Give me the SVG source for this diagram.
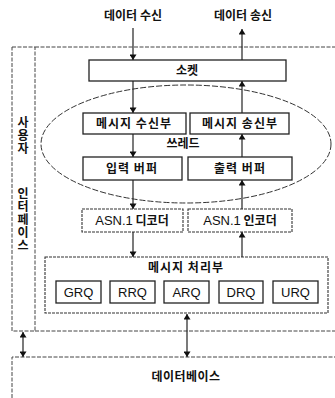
<svg xmlns="http://www.w3.org/2000/svg" width="335" height="398" viewBox="0 0 335 398">
<style>
text{font-family:"Noto Sans CJK KR","Liberation Sans",sans-serif;font-size:12px;fill:#111;text-anchor:middle;font-weight:bold}
.lat{font-family:"Liberation Sans","Noto Sans CJK KR",sans-serif;font-size:13px;font-weight:normal}
.vert{writing-mode:vertical-rl;text-orientation:upright;text-anchor:start;letter-spacing:1.2px}
.box{fill:#fff;stroke:#222;stroke-width:1.3}
.dbox{fill:#fff;stroke:#333;stroke-width:1.1;stroke-dasharray:3 1}
.frame{fill:none;stroke:#444;stroke-width:1;stroke-dasharray:4 1.5}
.ell{fill:none;stroke:#333;stroke-width:1;stroke-dasharray:6 2}
.c{stroke:#222;stroke-width:1.2;fill:none}
</style>
<defs>
<marker id="ah" viewBox="0 0 8 10" refX="8" refY="5" markerWidth="6" markerHeight="7" markerUnits="userSpaceOnUse" orient="auto-start-reverse">
<path d="M0,0 L8,5 L0,10 Z" fill="#111"/>
</marker>
</defs>

<g id="frame">
<path class="frame" d="M35,47 H335 M35,331 H335"/>
</g>

<g id="user-interface">
<rect class="frame" x="12" y="47" width="23" height="284"/>
<text class="vert" x="23" y="116">사용자</text>
<text class="vert" x="23" y="187">인터페이스</text>
</g>

<g id="data-in-label"><text x="133" y="20">데이터 수신</text></g>
<g id="data-out-label"><text x="243" y="20">데이터 송신</text></g>

<g id="socket">
<rect class="box" x="89" y="60" width="197" height="21"/>
<text x="187" y="75">소켓</text>
</g>

<g id="thread">
<ellipse class="ell" cx="186" cy="144" rx="145" ry="59"/>
<text x="183" y="148">쓰레드</text>
</g>

<g id="msg-recv">
<rect class="box" x="83" y="113" width="103" height="21"/>
<text x="134" y="128" letter-spacing="1">메시지 수신부</text>
</g>
<g id="msg-send">
<rect class="box" x="190" y="113" width="99" height="21"/>
<text x="240" y="128" letter-spacing="1">메시지 송신부</text>
</g>
<g id="in-buffer">
<rect class="box" x="83" y="157" width="99" height="23"/>
<text x="132" y="173" letter-spacing="1">입력 버퍼</text>
</g>
<g id="out-buffer">
<rect class="box" x="188" y="157" width="104" height="23"/>
<text x="240" y="173" letter-spacing="1">출력 버퍼</text>
</g>
<g id="asn-decoder">
<rect class="dbox" x="82" y="209" width="101" height="23"/>
<text x="132" y="225"><tspan class="lat">ASN.1</tspan> 디코더</text>
</g>
<g id="asn-encoder">
<rect class="dbox" x="188" y="209" width="104" height="23"/>
<text x="240" y="225"><tspan class="lat">ASN.1</tspan> 인코더</text>
</g>

<g id="msg-proc">
<rect class="dbox" x="45" y="257" width="283" height="56"/>
<text x="186" y="272" letter-spacing="1">메시지 처리부</text>
</g>
<g id="grq"><rect class="box" x="56" y="281" width="45" height="22"/><text class="lat" x="78.5" y="297">GRQ</text></g>
<g id="rrq"><rect class="box" x="110" y="281" width="45" height="22"/><text class="lat" x="132.5" y="297">RRQ</text></g>
<g id="arq"><rect class="box" x="164" y="281" width="45" height="22"/><text class="lat" x="186.5" y="297">ARQ</text></g>
<g id="drq"><rect class="box" x="219" y="281" width="44" height="22"/><text class="lat" x="241" y="297">DRQ</text></g>
<g id="urq"><rect class="box" x="273" y="281" width="45" height="22"/><text class="lat" x="295.5" y="297">URQ</text></g>

<g id="database">
<path class="frame" d="M12,398 V357 H335"/>
<text x="186" y="381" letter-spacing="0.5">데이터베이스</text>
</g>

<g id="connectors">
<line class="c" x1="133" y1="28" x2="133" y2="60" marker-end="url(#ah)"/>
<line class="c" x1="133" y1="81" x2="133" y2="113" marker-end="url(#ah)"/>
<line class="c" x1="133" y1="134" x2="133" y2="157" marker-end="url(#ah)"/>
<line class="c" x1="133" y1="180" x2="133" y2="209" marker-end="url(#ah)"/>
<line class="c" x1="133" y1="232" x2="133" y2="257" marker-end="url(#ah)"/>
<line class="c" x1="242" y1="60" x2="242" y2="29" marker-end="url(#ah)"/>
<line class="c" x1="242" y1="113" x2="242" y2="81" marker-end="url(#ah)"/>
<line class="c" x1="242" y1="157" x2="242" y2="134" marker-end="url(#ah)"/>
<line class="c" x1="242" y1="209" x2="242" y2="180" marker-end="url(#ah)"/>
<line class="c" x1="242" y1="257" x2="242" y2="232" marker-end="url(#ah)"/>
<line class="c" x1="187" y1="314" x2="187" y2="357" marker-start="url(#ah)" marker-end="url(#ah)"/>
<line class="c" x1="23" y1="332" x2="23" y2="357" marker-start="url(#ah)" marker-end="url(#ah)"/>
</g>
</svg>
